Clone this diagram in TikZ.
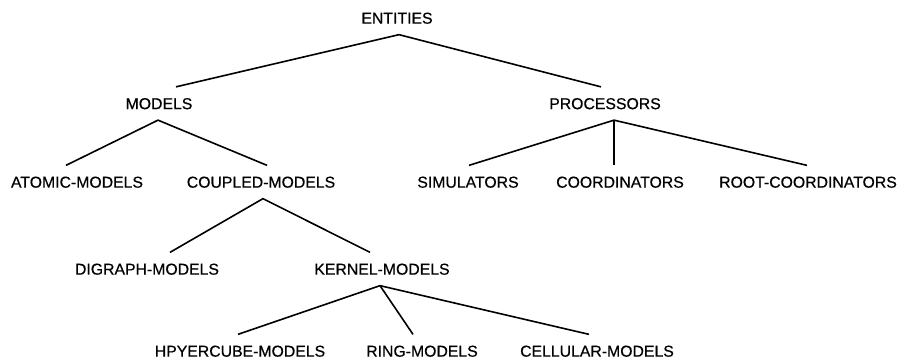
\documentclass[tikz,border=0pt]{standalone}
\usepackage{fontspec}
\setmainfont{Liberation Sans}[FakeBold=0.5]

\begin{document}
\begin{tikzpicture}[x=1pt, y=-1pt,
    term/.style={inner sep=0pt, outer ysep=11pt, text height=11.3pt, text depth=0pt,
                 font=\fontsize{15.8}{18}\selectfont},
    link/.style={line width=1.6pt}]
    \useasboundingbox (0, 0) rectangle (903, 359);

    \node [term] (entities) at (397, 18) {ENTITIES};

    \node [term] (models) at (159, 103.5) {MODELS};
    \node [term] (processors) at (605, 103.5) {PROCESSORS};

    \node [term] (atomic) at (77, 182) {ATOMIC-MODELS};
    \node [term] (coupled) at (261, 182) {COUPLED-MODELS};
    \node [term] (simulators) at (468, 182) {SIMULATORS};
    \node [term] (coordinators) at (620, 182) {COORDINATORS};
    \node [term] (rootcoord) at (808, 182) {ROOT-COORDINATORS};

    \node [term] (digraph) at (147, 269) {DIGRAPH-MODELS};
    \node [term] (kernel) at (382, 269) {KERNEL-MODELS};

    \node [term] (hypercube) at (240, 351) {HPYERCUBE-MODELS};
    \node [term] (ring) at (422, 351) {RING-MODELS};
    \node [term] (cellular) at (597, 351) {CELLULAR-MODELS};

    \draw [link] ([xshift=17pt]models.north) -- ([xshift=2pt]entities.south) -- ([xshift=-4pt]processors.north);
    \draw [link] ([xshift=-11pt]atomic.north) -- ([xshift=-1pt]models.south) -- ([xshift=6pt]coupled.north);
    \draw [link] ([xshift=1pt]simulators.north) -- ([xshift=9pt]processors.south) -- ([xshift=-1pt]rootcoord.north);
    \draw [link] ([xshift=9pt]processors.south) -- ([xshift=-6pt]coordinators.north);
    \draw [link] ([xshift=23pt]digraph.north) -- ([xshift=2pt]coupled.south) -- ([xshift=-12pt]kernel.north);
    \draw [link] ([xshift=-2pt]hypercube.north) -- ([xshift=-2pt]kernel.south) -- ([xshift=-8pt]cellular.north);
    \draw [link] ([xshift=-2pt]kernel.south) -- ([xshift=-9pt]ring.north);
\end{tikzpicture}
\end{document}
